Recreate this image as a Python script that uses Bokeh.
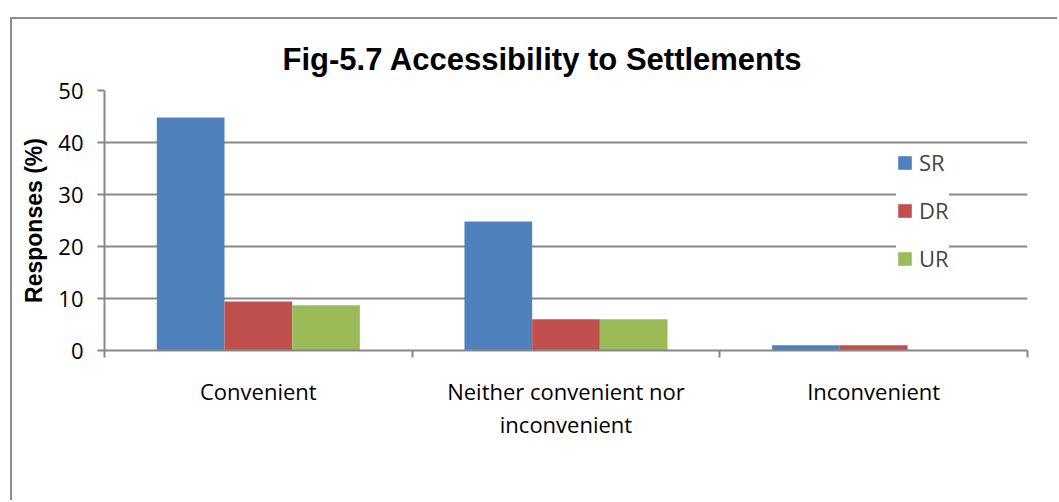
from bokeh.plotting import figure
from bokeh.models import Range1d, ColumnDataSource, FixedTicker, Legend, LegendItem
from bokeh.transform import dodge
from bokeh.embed import file_html
from bokeh.resources import INLINE

categories = ["Convenient", "Neither convenient nor inconvenient", "Inconvenient"]
label_lines = {"Neither convenient nor inconvenient": "Neither convenient nor\ninconvenient"}
series_names = ["SR", "DR", "UR"]
sr = [44.8, 24.8, 1.0]
dr = [9.4, 6.0, 1.0]
ur = [8.7, 6.0, 0.0]
colors = ["#4F81BD", "#C0504D", "#9BBB59"]
y_ticks = [0, 10, 20, 30, 40, 50]
title_text = "Fig-5.7 Accessibility to Settlements"
y_title = "Responses (%)"

GRID = "#878787"
LABEL_FONT = "Open Sans"

n = len(categories)
centers = [i + 0.5 for i in range(n)]
source = ColumnDataSource(data=dict(xc=centers, cat=categories, SR=sr, DR=dr, UR=ur))

p = figure(width=1047, height=483,
           x_range=Range1d(0, n), y_range=Range1d(0, 50),
           output_backend="svg", toolbar_location=None,
           min_border_left=92, min_border_right=32,
           min_border_top=71, min_border_bottom=152)
p.margin = (17, 0, 0, 10)
p.styles = {"border-left": "2px solid #8c8c8c", "border-top": "2px solid #8c8c8c"}
p.outline_line_color = None
p.background_fill_color = "white"
p.border_fill_color = "white"

p.title.text = title_text
p.title.align = "left"
p.title.offset = 178
p.title.standoff = 28
p.title.text_font = "Liberation Sans"
p.title.text_font_style = "bold"
p.title.text_font_size = "31px"
p.title.text_color = "black"

# y axis
ya = p.yaxis[0]
ya.ticker = FixedTicker(ticks=y_ticks)
ya.axis_line_color = GRID
ya.axis_line_width = 2
ya.major_tick_line_color = GRID
ya.major_tick_line_width = 2
ya.major_tick_out = 7
ya.major_tick_in = 0
ya.minor_tick_line_color = None
ya.major_label_text_font = LABEL_FONT
ya.major_label_text_font_size = "22px"
ya.major_label_text_color = "black"
ya.major_label_standoff = 14
ya.axis_label = y_title
ya.axis_label_text_font = "Liberation Sans"
ya.axis_label_text_font_style = "bold"
ya.axis_label_text_font_size = "23px"
ya.axis_label_text_color = "black"
ya.axis_label_standoff = 8

# x axis: labels at category centres, tick marks at category boundaries
xa = p.xaxis[0]
xa.ticker = FixedTicker(ticks=centers, minor_ticks=list(range(n + 1)))
xa.major_label_overrides = {c: label_lines.get(cat, cat) for c, cat in zip(centers, categories)}
xa.axis_line_color = GRID
xa.axis_line_width = 2
xa.major_tick_line_color = None
xa.minor_tick_line_color = GRID
xa.minor_tick_line_width = 2
xa.minor_tick_out = 7
xa.minor_tick_in = 0
xa.major_label_text_font = LABEL_FONT
xa.major_label_text_font_size = "22px"
xa.major_label_text_color = "black"
xa.major_label_text_line_height = 1.1
xa.major_label_standoff = 18

p.xgrid.grid_line_color = None
p.ygrid.grid_line_color = GRID
p.ygrid.grid_line_width = 2
p.ygrid.ticker = FixedTicker(ticks=y_ticks)

# bars
offsets = [-0.22, 0.0, 0.22]
renderers = []
for name, off, col in zip(series_names, offsets, colors):
    r = p.vbar(x=dodge("xc", off), top=name, width=0.22,
               source=source, fill_color=col, line_color=None)
    renderers.append(r)

# legend
legend = Legend(items=[LegendItem(label=s, renderers=[r]) for s, r in zip(series_names, renderers)],
                location=(792, 77), orientation="vertical",
                border_line_color=None, background_fill_color="white", background_fill_alpha=1,
                label_text_font=LABEL_FONT, label_text_font_size="22px",
                glyph_width=17, glyph_height=17, label_height=20, spacing=18,
                padding=14, margin=0, label_standoff=6)
p.add_layout(legend)

open("out.html", "w").write(file_html(p, INLINE))
